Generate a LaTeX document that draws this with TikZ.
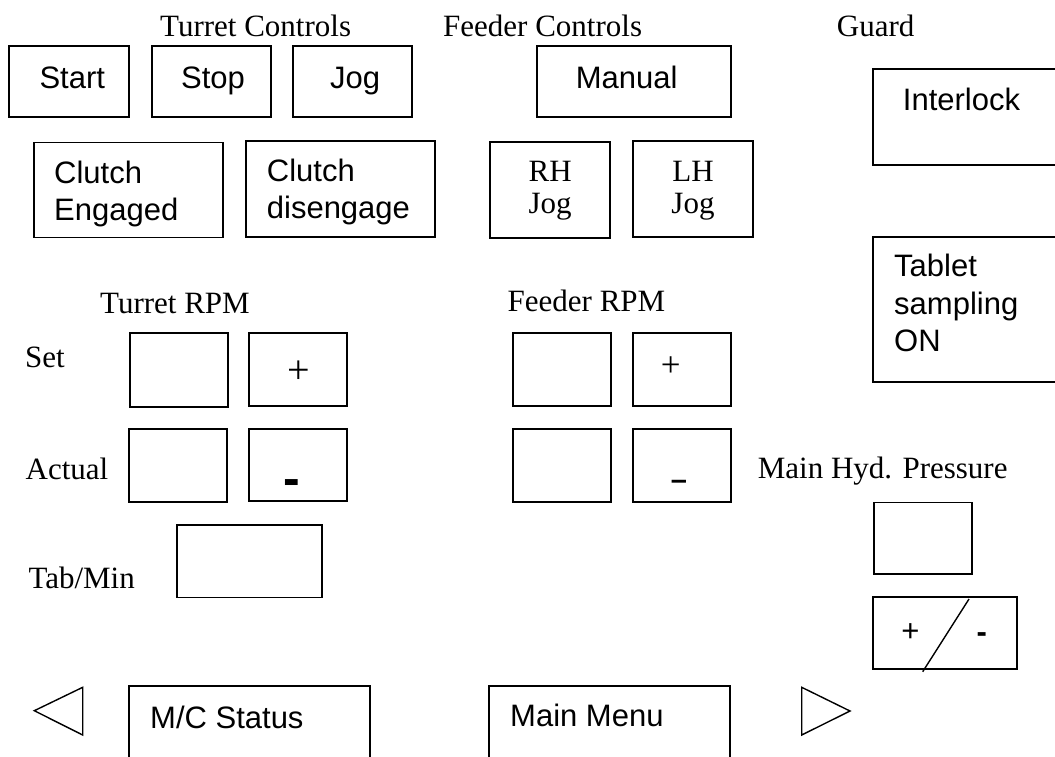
\documentclass[tikz,border=0pt]{standalone}
\usepackage{fontspec}
\setmainfont{Liberation Serif}
\newfontfamily\arialfont{Liberation Sans}
\begin{document}
\begin{tikzpicture}[x=1pt,y=-1pt,
  panel/.style={draw, line width=1.8pt, rectangle, inner sep=0pt},
  keylbl/.style={font=\arialfont\fontsize{31}{37}\selectfont, inner sep=0pt},
  caption/.style={font=\fontsize{31}{37}\selectfont, inner sep=0pt},
  thinline/.style={line width=1.4pt, line join=miter},
]
\useasboundingbox (0,0) rectangle (1055,756);
\fill[white] (0,0) rectangle (1055,756);
\clip (0,0) rectangle (1055,756);

% --- group captions
\node[caption, anchor=base west] (cap-turret) at (160,36) {Turret Controls};
\node[caption, anchor=base west] (cap-feeder) at (443,36) {Feeder Controls};
\node[caption, anchor=base west] (cap-guard)  at (836.7,36) {Guard};

% --- turret control keys
\node[panel, minimum width=119.4pt, minimum height=71pt] (start) at (69,81.5) {};
\node[panel, minimum width=119.3pt, minimum height=71pt] (stop)  at (211.3,81.5) {};
\node[panel, minimum width=119pt,   minimum height=71pt] (jog)   at (352.2,81.2) {};
\node[keylbl, anchor=base west] (start-t) at (39.3,88.3) {Start};
\node[keylbl, anchor=base west] (stop-t)  at (181,88.3) {Stop};
\node[keylbl, anchor=base west] (jog-t)   at (330,88.3) {Jog};

\node[panel, minimum width=189.3pt, minimum height=95pt] (clutch-on)  at (128.7,190) {};
\node[panel, minimum width=189.6pt, minimum height=96pt] (clutch-off) at (340.5,189) {};
\node[keylbl, anchor=base west] (clutch-on-1)  at (54,183.3) {Clutch};
\node[keylbl, anchor=base west] (clutch-on-2)  at (54,220) {Engaged};
\node[keylbl, anchor=base west] (clutch-off-1) at (266.7,181.7) {Clutch};
\node[keylbl, anchor=base west] (clutch-off-2) at (266.7,218.3) {disengage};

% --- feeder control keys
\node[panel, minimum width=193.4pt, minimum height=71pt] (manual) at (634,81.2) {};
\node[keylbl, anchor=base west] (manual-t) at (575.7,88.3) {Manual};

\node[panel, minimum width=120.3pt, minimum height=96.6pt] (rhjog) at (550.2,190) {};
\node[panel, minimum width=120.6pt, minimum height=96.3pt] (lhjog) at (693,189.2) {};
\node[caption, anchor=base] (rhjog-1) at (550.2,181.5) {RH};
\node[caption, anchor=base] (rhjog-2) at (550.2,213.5) {Jog};
\node[caption, anchor=base] (lhjog-1) at (693,181.2) {LH};
\node[caption, anchor=base] (lhjog-2) at (693,213.3) {Jog};

% --- guard keys (run off the right edge)
\node[panel, minimum width=197.3pt, minimum height=96pt]    (interlock) at (971.3,117) {};
\node[panel, minimum width=197.3pt, minimum height=145.6pt] (sampling)  at (971.3,309.5) {};
\node[keylbl, anchor=base west] (interlock-t) at (902.7,110) {Interlock};
\node[keylbl, anchor=base west] (sampling-1) at (894,276.5) {Tablet};
\node[keylbl, anchor=base west] (sampling-2) at (894,314) {sampling};
\node[keylbl, anchor=base west] (sampling-3) at (894,351.5) {ON};

% --- turret RPM
\node[caption, anchor=base west] (cap-trpm) at (100,313.3) {Turret RPM};
\node[caption, anchor=base west] (lbl-set)    at (25,367.3) {Set};
\node[caption, anchor=base west] (lbl-actual) at (25.5,479) {Actual};
\node[caption, anchor=base west] (lbl-tabmin) at (28.3,588.3) {Tab/Min};

\node[panel, minimum width=97.7pt, minimum height=73.4pt] (t-set)    at (178.8,370) {};
\node[panel, minimum width=97.7pt, minimum height=73pt]   (t-plus)   at (297.8,369.2) {};
\node[panel, minimum width=97.4pt, minimum height=72.7pt] (t-actual) at (178,465.3) {};
\node[panel, minimum width=97.7pt, minimum height=72pt]   (t-minus)  at (297.8,465) {};
\node[panel, minimum width=145.6pt, minimum height=72.5pt] (t-tabmin) at (249.5,561.2) {};
\node[inner sep=0pt, font=\fontsize{40}{44}\selectfont] (t-plus-t) at (299,372) {+};
\node[inner sep=0pt, font=\arialfont\bfseries\fontsize{50}{52}\selectfont] (t-minus-t) at (291.5,488) {-};

% --- feeder RPM
\node[caption, anchor=base west] (cap-frpm) at (507.5,311.7) {Feeder RPM};
\node[panel, minimum width=97.7pt, minimum height=72.4pt] (f-set)    at (561.8,369.5) {};
\node[panel, minimum width=98pt,   minimum height=72.4pt] (f-plus)   at (681.7,369.5) {};
\node[panel, minimum width=97.7pt, minimum height=72.7pt] (f-actual) at (561.8,465.3) {};
\node[panel, minimum width=98pt,   minimum height=72.7pt] (f-minus)  at (681.7,465.3) {};
\node[inner sep=0pt, font=\fontsize{35}{38}\selectfont] (f-plus-t) at (670.7,367) {+};
\node[inner sep=0pt, font=\arialfont\bfseries\fontsize{29}{32}\selectfont] (f-minus-t) at (679,485) {–};

% --- main hydraulic pressure
\node[caption, anchor=base west] (cap-hyd) at (757.7,478.3) {Main Hyd. Pressure};
\node[panel, minimum width=97.7pt, minimum height=71.5pt] (hyd)    at (922.8,538.2) {};
\node[panel, minimum width=144.6pt, minimum height=72pt]  (hyd-pm) at (945,633.3) {};
\coordinate (slash-top) at (969,599);
\coordinate (slash-bot) at (922.7,671.7);
\draw[thinline] (slash-top) -- (slash-bot);
\node[keylbl] (hyd-plus)  at (910.5,633) {+};
\node[keylbl, font=\arialfont\bfseries\fontsize{31}{37}\selectfont] (hyd-minus) at (981.7,638) {-};

% --- navigation row (boxes run off the bottom edge)
\node[panel, minimum width=241pt, minimum height=94.3pt] (mcstatus) at (249.5,732.8) {};
\node[panel, minimum width=241pt, minimum height=94pt]   (mainmenu) at (609.5,733) {};
\node[keylbl, anchor=base west] (mcstatus-t) at (150,728.3) {M/C Status};
\node[keylbl, anchor=base west] (mainmenu-t) at (510,726.7) {Main Menu};

\coordinate (prev-tip) at (34.3,710.7);
\coordinate (prev-top) at (82.7,687.3);
\coordinate (prev-bot) at (82.7,735);
\draw[thinline] (prev-tip) -- (prev-top) -- (prev-bot) -- cycle;

\coordinate (next-tip) at (850,711);
\coordinate (next-top) at (801.7,687.3);
\coordinate (next-bot) at (801.7,735);
\draw[thinline] (next-tip) -- (next-top) -- (next-bot) -- cycle;
\end{tikzpicture}
\end{document}
